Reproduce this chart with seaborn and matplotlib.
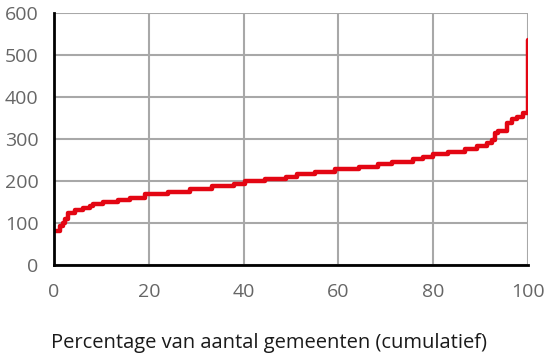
import matplotlib
matplotlib.use("Agg")
import matplotlib.pyplot as plt
import seaborn as sns
import pandas as pd

# Cumulative percentage of municipalities (start of each level) and the value level
pct_steps = [0.5, 1.2, 1.9, 2.4, 3.0, 4.4, 6.1, 7.5, 8.2, 10.3, 13.5, 16.0, 19.2,
             24.1, 28.7, 33.3, 38.0, 40.3, 44.5, 49.0, 51.2, 55.0, 59.3, 64.4,
             68.4, 71.4, 75.7, 77.8, 80.0, 83.1, 86.7, 89.2, 91.4, 92.3, 93.0,
             93.7, 95.6, 96.6, 97.7, 99.0, 100.0]
levels = [80, 92, 100, 110, 124, 130, 136, 141, 145, 150, 155, 160, 168,
          173, 180, 187, 193, 199, 204, 209, 217, 222, 228, 233,
          240, 246, 252, 258, 264, 268, 276, 283, 290, 298, 314,
          320, 338, 348, 353, 361, 535]

x_ticks = [0, 20, 40, 60, 80, 100]
y_ticks = [0, 100, 200, 300, 400, 500, 600]
x_label = "Percentage van aantal gemeenten (cumulatief)"

df = pd.DataFrame({"pct": pct_steps, "val": levels})

sns.set_style("white")
plt.rcParams["font.family"] = ["Open Sans", "DejaVu Sans"]

fig = plt.figure(figsize=(5.44, 3.59), dpi=100)
ax = fig.add_axes([54 / 544, 94 / 359, 474 / 544, 252 / 359])

sns.lineplot(data=df, x="pct", y="val", ax=ax, color="#e30613", linewidth=3.2,
             drawstyle="steps-post", estimator=None, sort=False)

ax.set_xlim(0, 100)
ax.set_ylim(0, 600)
ax.set_xticks(x_ticks)
ax.set_yticks(y_ticks)
ax.grid(True, color="#a8a8a8", linewidth=1.5)
ax.set_axisbelow(True)

for s in ["top", "right"]:
    ax.spines[s].set_visible(False)
for s in ["left", "bottom"]:
    ax.spines[s].set_color("black")
    ax.spines[s].set_linewidth(2.0)
    ax.spines[s].set_zorder(3)

ax.tick_params(axis="both", which="both", direction="out", length=5, width=1.8,
               color="black", labelcolor="#666666", labelsize=14)
ax.tick_params(axis="x", pad=8)
ax.tick_params(axis="y", pad=6)

ax.set_xlabel(x_label, fontsize=14.5, color="#1a1a1a")
ax.xaxis.set_label_coords((269 - 54) / 474, -0.31)
ax.xaxis.label.set_va("center")
ax.set_ylabel("")

fig.savefig("out.png", dpi=100, facecolor="white")
